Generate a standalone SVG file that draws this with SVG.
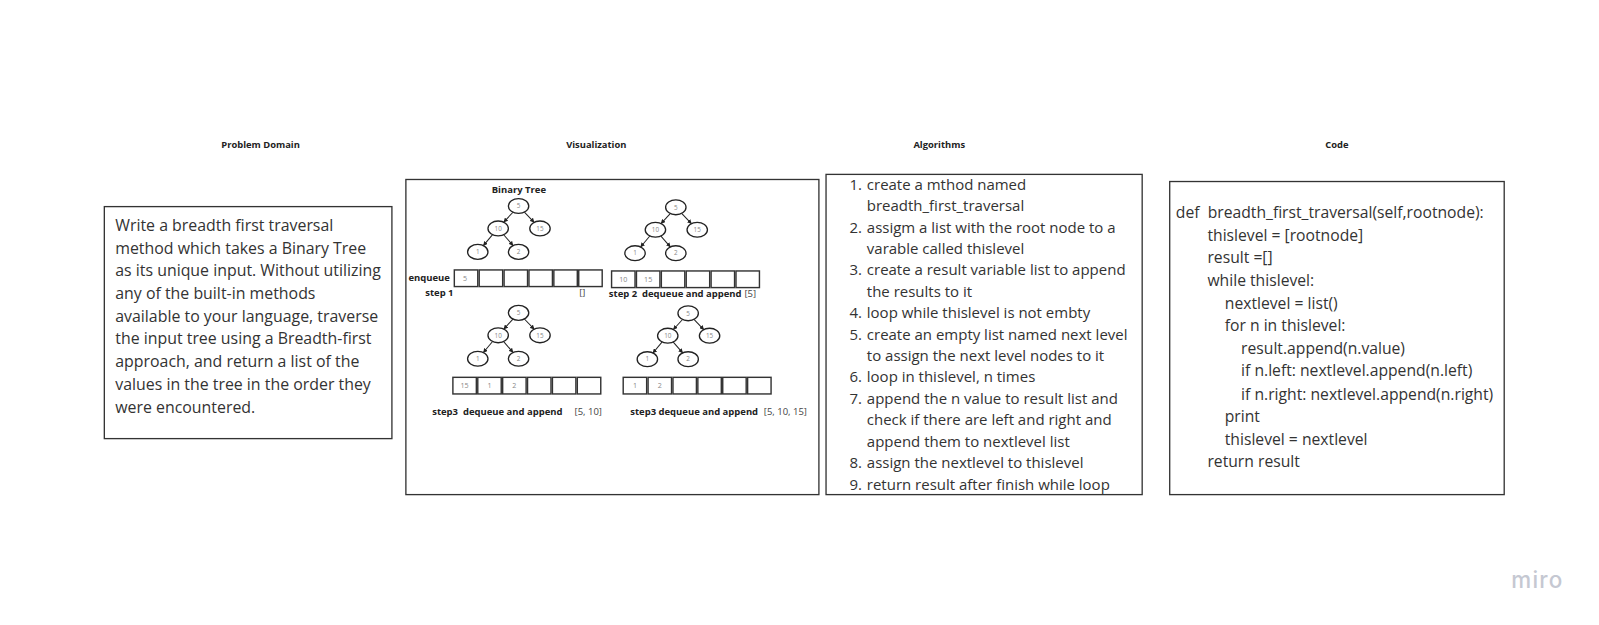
<svg xmlns="http://www.w3.org/2000/svg" width="1599" height="625" viewBox="0 0 1599 625">
<defs>
<marker id="ah" viewBox="0 0 10 10" refX="9" refY="5" markerWidth="4.5" markerHeight="4.5" orient="auto" markerUnits="userSpaceOnUse">
<path d="M0,0 L10,5 L0,10 z" fill="#222"/>
</marker>
<style>
.box{fill:#fff;stroke:#333;stroke-width:1.3}
.hdr{font-family:"Open Sans","DejaVu Sans",sans-serif;font-weight:bold;font-size:9.2px;fill:#222;text-anchor:middle}
.body{font-family:"Open Sans","DejaVu Sans",sans-serif;font-size:15.6px;fill:#333}
.alg{font-family:"Open Sans","DejaVu Sans",sans-serif;font-size:14.7px;fill:#333}
.code{font-family:"Open Sans","DejaVu Sans",sans-serif;font-size:15.4px;fill:#333}
.nd{fill:#fff;stroke:#222;stroke-width:1.3}
.nt{font-family:"Open Sans","DejaVu Sans",sans-serif;font-size:6.2px;fill:#888;text-anchor:middle}
.cell{fill:#fff;stroke:#333;stroke-width:1.4}
.ct{font-family:"Open Sans","DejaVu Sans",sans-serif;font-size:7px;fill:#888;text-anchor:middle}
.lb{font-family:"Open Sans","DejaVu Sans",sans-serif;font-weight:bold;font-size:9.3px;fill:#222}
.lr{font-family:"Open Sans","DejaVu Sans",sans-serif;font-size:9.3px;fill:#444}
.edge{stroke:#222;stroke-width:1;fill:none;marker-end:url(#ah)}
</style>
</defs>
<rect width="1599" height="625" fill="#fff"/>
<g transform="scale(1.0198)">

<g id="headers">
<text class="hdr" x="255.5" y="145.5">Problem Domain</text>
<text class="hdr" x="584.7" y="145.5">Visualization</text>
<text class="hdr" x="921" y="145.5">Algorithms</text>
<text class="hdr" x="1311" y="145.5">Code</text>
</g>

<g id="problem-domain">
<rect class="box" x="102.3" y="202.6" width="282" height="227.5"/>
<text class="body" x="113" y="226.5">
<tspan x="113" dy="0">Write a breadth first traversal</tspan>
<tspan x="113" dy="22.25">method which takes a Binary Tree</tspan>
<tspan x="113" dy="22.25">as its unique input. Without utilizing</tspan>
<tspan x="113" dy="22.25">any of the built-in methods</tspan>
<tspan x="113" dy="22.25">available to your language, traverse</tspan>
<tspan x="113" dy="22.25">the input tree using a Breadth-first</tspan>
<tspan x="113" dy="22.25">approach, and return a list of the</tspan>
<tspan x="113" dy="22.25">values in the tree in the order they</tspan>
<tspan x="113" dy="22.25">were encountered.</tspan>
</text>
</g>

<g id="visualization">
<rect class="box" x="398" y="176" width="405" height="309"/>
<text class="lb" x="508.8" y="189.5" text-anchor="middle" font-size="10.3">Binary Tree</text>
</g>

<g id="connectors">
<g transform="translate(508.5,202)">
<path class="edge" d="M-5.5,6.1 L-14.5,15.9"/>
<path class="edge" d="M5.7,6 L15.3,16"/>
<path class="edge" d="M-25.5,28.1 L-34.5,38.9"/>
<path class="edge" d="M-14.6,28.2 L-5.4,38.8"/>
</g>
<g transform="translate(662.7,203.3)">
<path class="edge" d="M-5.5,6.1 L-14.5,15.9"/>
<path class="edge" d="M5.7,6 L15.3,16"/>
<path class="edge" d="M-25.5,28.1 L-34.5,38.9"/>
<path class="edge" d="M-14.6,28.2 L-5.4,38.8"/>
</g>
<g transform="translate(508.5,306.8)">
<path class="edge" d="M-5.5,6.1 L-14.5,15.9"/>
<path class="edge" d="M5.7,6 L15.3,16"/>
<path class="edge" d="M-25.5,28.1 L-34.5,38.9"/>
<path class="edge" d="M-14.6,28.2 L-5.4,38.8"/>
</g>
<g transform="translate(674.8,307.2)">
<path class="edge" d="M-5.5,6.1 L-14.5,15.9"/>
<path class="edge" d="M5.7,6 L15.3,16"/>
<path class="edge" d="M-25.5,28.1 L-34.5,38.9"/>
<path class="edge" d="M-14.6,28.2 L-5.4,38.8"/>
</g>
</g>

<g id="tree-a" transform="translate(508.5,202)">
<g id="a5"><ellipse class="nd" cx="0" cy="0" rx="10" ry="7.3"/><text class="nt" x="0" y="2.2">5</text></g>
<g id="a10"><ellipse class="nd" cx="-20" cy="22" rx="10" ry="7.3"/><text class="nt" x="-20" y="24.2">10</text></g>
<g id="a15"><ellipse class="nd" cx="21" cy="22" rx="10" ry="7.3"/><text class="nt" x="21" y="24.2">15</text></g>
<g id="a1"><ellipse class="nd" cx="-40" cy="45" rx="10" ry="7.3"/><text class="nt" x="-40" y="47.2">1</text></g>
<g id="a2"><ellipse class="nd" cx="0" cy="45" rx="10" ry="7.3"/><text class="nt" x="0" y="47.2">2</text></g>
</g>

<g id="tree-b" transform="translate(662.7,203.3)">
<g id="b5"><ellipse class="nd" cx="0" cy="0" rx="10" ry="7.3"/><text class="nt" x="0" y="2.2">5</text></g>
<g id="b10"><ellipse class="nd" cx="-20" cy="22" rx="10" ry="7.3"/><text class="nt" x="-20" y="24.2">10</text></g>
<g id="b15"><ellipse class="nd" cx="21" cy="22" rx="10" ry="7.3"/><text class="nt" x="21" y="24.2">15</text></g>
<g id="b1"><ellipse class="nd" cx="-40" cy="45" rx="10" ry="7.3"/><text class="nt" x="-40" y="47.2">1</text></g>
<g id="b2"><ellipse class="nd" cx="0" cy="45" rx="10" ry="7.3"/><text class="nt" x="0" y="47.2">2</text></g>
</g>

<g id="tree-c" transform="translate(508.5,306.8)">
<g id="c5"><ellipse class="nd" cx="0" cy="0" rx="10" ry="7.3"/><text class="nt" x="0" y="2.2">5</text></g>
<g id="c10"><ellipse class="nd" cx="-20" cy="22" rx="10" ry="7.3"/><text class="nt" x="-20" y="24.2">10</text></g>
<g id="c15"><ellipse class="nd" cx="21" cy="22" rx="10" ry="7.3"/><text class="nt" x="21" y="24.2">15</text></g>
<g id="c1"><ellipse class="nd" cx="-40" cy="45" rx="10" ry="7.3"/><text class="nt" x="-40" y="47.2">1</text></g>
<g id="c2"><ellipse class="nd" cx="0" cy="45" rx="10" ry="7.3"/><text class="nt" x="0" y="47.2">2</text></g>
</g>

<g id="tree-d" transform="translate(674.8,307.2)">
<g id="d5"><ellipse class="nd" cx="0" cy="0" rx="10" ry="7.3"/><text class="nt" x="0" y="2.2">5</text></g>
<g id="d10"><ellipse class="nd" cx="-20" cy="22" rx="10" ry="7.3"/><text class="nt" x="-20" y="24.2">10</text></g>
<g id="d15"><ellipse class="nd" cx="21" cy="22" rx="10" ry="7.3"/><text class="nt" x="21" y="24.2">15</text></g>
<g id="d1"><ellipse class="nd" cx="-40" cy="45" rx="10" ry="7.3"/><text class="nt" x="-40" y="47.2">1</text></g>
<g id="d2"><ellipse class="nd" cx="0" cy="45" rx="10" ry="7.3"/><text class="nt" x="0" y="47.2">2</text></g>
</g>

<g id="queue-1">
<text class="lb" x="400.5" y="275.5" font-size="9.1">enqueue</text>
<rect class="cell" x="445.5" y="264.7" width="23" height="16.3"/>
<rect class="cell" x="469.9" y="264.7" width="23" height="16.3"/>
<rect class="cell" x="494.3" y="264.7" width="23" height="16.3"/>
<rect class="cell" x="518.7" y="264.7" width="23" height="16.3"/>
<rect class="cell" x="543.1" y="264.7" width="23" height="16.3"/>
<rect class="cell" x="567.5" y="264.7" width="23" height="16.3"/>
<text class="ct" x="456" y="275.3">5</text>
<text class="lb" x="417" y="290" font-size="8.8">step 1</text>
<text class="lr" x="568" y="290">[]</text>
</g>

<g id="queue-2">
<rect class="cell" x="599.7" y="265.7" width="23" height="16.3"/>
<rect class="cell" x="624.1" y="265.7" width="23" height="16.3"/>
<rect class="cell" x="648.5" y="265.7" width="23" height="16.3"/>
<rect class="cell" x="672.9" y="265.7" width="23" height="16.3"/>
<rect class="cell" x="697.3" y="265.7" width="23" height="16.3"/>
<rect class="cell" x="721.7" y="265.7" width="23" height="16.3"/>
<text class="ct" x="611.2" y="276.3">10</text>
<text class="ct" x="635.6" y="276.3">15</text>
<text class="lb" x="597" y="291" font-size="7.8" xml:space="preserve">step 2  dequeue and append</text>
<text class="lr" x="730" y="291">[5]</text>
</g>

<g id="queue-3">
<rect class="cell" x="444.1" y="370" width="23" height="16.3"/>
<rect class="cell" x="468.5" y="370" width="23" height="16.3"/>
<rect class="cell" x="492.9" y="370" width="23" height="16.3"/>
<rect class="cell" x="517.3" y="370" width="23" height="16.3"/>
<rect class="cell" x="541.7" y="370" width="23" height="16.3"/>
<rect class="cell" x="566.1" y="370" width="23" height="16.3"/>
<text class="ct" x="455.6" y="380.6">15</text>
<text class="ct" x="480" y="380.6">1</text>
<text class="ct" x="504.4" y="380.6">2</text>
<text class="lb" x="423.8" y="407" xml:space="preserve">step3  dequeue and append</text>
<text class="lr" x="563.4" y="407">[5, 10]</text>
</g>

<g id="queue-4">
<rect class="cell" x="611.1" y="370" width="23" height="16.3"/>
<rect class="cell" x="635.5" y="370" width="23" height="16.3"/>
<rect class="cell" x="659.9" y="370" width="23" height="16.3"/>
<rect class="cell" x="684.3" y="370" width="23" height="16.3"/>
<rect class="cell" x="708.7" y="370" width="23" height="16.3"/>
<rect class="cell" x="733.1" y="370" width="23" height="16.3"/>
<text class="ct" x="622.6" y="380.6">1</text>
<text class="ct" x="647" y="380.6">2</text>
<text class="lb" x="618" y="407">step3 dequeue and append</text>
<text class="lr" x="749" y="407">[5, 10, 15]</text>
</g>

<g id="algorithms">
<rect class="box" x="810" y="171" width="310" height="314"/>
<text class="alg" x="833" y="186">1.</text><text class="alg" x="850" y="186">create a mthod named</text>
<text class="alg" x="850" y="207">breadth_first_traversal</text>
<text class="alg" x="833" y="228">2.</text><text class="alg" x="850" y="228">assigm a list with the root node to a</text>
<text class="alg" x="850" y="249">varable called thislevel</text>
<text class="alg" x="833" y="270">3.</text><text class="alg" x="850" y="270">create a result variable list to append</text>
<text class="alg" x="850" y="291">the results to it</text>
<text class="alg" x="833" y="312">4.</text><text class="alg" x="850" y="312">loop while thislevel is not embty</text>
<text class="alg" x="833" y="333">5.</text><text class="alg" x="850" y="333">create an empty list named next level</text>
<text class="alg" x="850" y="354">to assign the next level nodes to it</text>
<text class="alg" x="833" y="375">6.</text><text class="alg" x="850" y="375">loop in thislevel, n times</text>
<text class="alg" x="833" y="396">7.</text><text class="alg" x="850" y="396">append the n value to result list and</text>
<text class="alg" x="850" y="417">check if there are left and right and</text>
<text class="alg" x="850" y="438">append them to nextlevel list</text>
<text class="alg" x="833" y="459">8.</text><text class="alg" x="850" y="459">assign the nextlevel to thislevel</text>
<text class="alg" x="833" y="480">9.</text><text class="alg" x="850" y="480">return result after finish while loop</text>
</g>

<g id="code">
<rect class="box" x="1147" y="178" width="328" height="307"/>
<text class="code" x="1153" y="214" xml:space="preserve">def  breadth_first_traversal(self,rootnode):</text>
<text class="code" x="1184" y="236">thislevel = [rootnode]</text>
<text class="code" x="1184" y="258">result =[]</text>
<text class="code" x="1184" y="280">while thislevel:</text>
<text class="code" x="1201" y="303">nextlevel = list()</text>
<text class="code" x="1201" y="325">for n in thislevel:</text>
<text class="code" x="1217" y="347">result.append(n.value)</text>
<text class="code" x="1217" y="369">if n.left: nextlevel.append(n.left)</text>
<text class="code" x="1217" y="392">if n.right: nextlevel.append(n.right)</text>
<text class="code" x="1201" y="414">print</text>
<text class="code" x="1201" y="436">thislevel = nextlevel</text>
<text class="code" x="1184" y="458">return result</text>
</g>

<g id="logo">
<text x="1482" y="577" font-family="Inter,'Open Sans',sans-serif" font-size="22" font-weight="500" fill="#c5c8d2" letter-spacing="1.2">miro</text>
</g>
</g>
</svg>
